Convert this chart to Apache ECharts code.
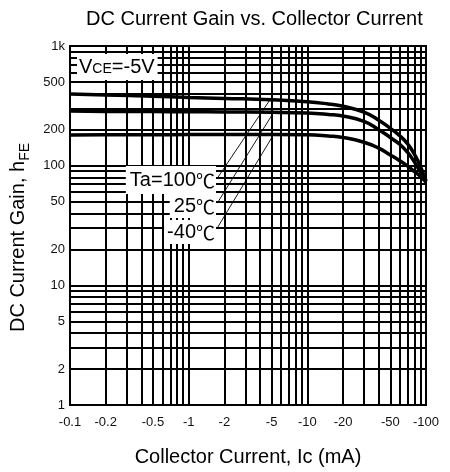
<!DOCTYPE html>
<html>
<head>
<meta charset="utf-8">
<script src="https://cdn.jsdelivr.net/npm/echarts@6/dist/echarts.min.js"></script>
<style>
  html, body { margin: 0; padding: 0; background: #fff; }
  #dc-gain-chart { width: 450px; height: 472px; }
</style>
</head>
<body>
<div id="dc-gain-chart"></div>
<script>
// collector current magnitude (mA), plotted as negative on the labels
const icValues = [0.1, 0.2, 0.5, 1, 2, 5, 10, 15, 20, 30, 40, 50, 60, 70, 80, 90, 100]
const hfe100 = [398, 390, 380, 372, 365, 355, 342, 328, 314, 280, 240, 205, 178, 152, 124, 98, 74]
const hfe25 = [286, 284, 283, 282, 281, 279, 275, 268, 260, 234, 200, 172, 151, 129, 107, 88, 75]
const hfeM40 = [180, 181, 181, 182, 182, 182, 181, 177, 172, 157, 140, 123, 110, 99, 89, 81, 73]

// tick labels and grid lines
const xLabelVals = [0.1, 0.2, 0.5, 1, 2, 5, 10, 20, 50, 100]
const xGridVals = [0.1, 0.2, 0.3, 0.4, 0.5, 0.6, 0.7, 0.8, 0.9, 1, 2, 3, 4, 5, 6, 7, 8, 9, 10, 20, 30, 40, 50, 60, 70, 80, 90, 100]
const yLabelVals = [1, 2, 5, 10, 20, 50, 100, 200, 500, 1000]
const yGridVals = [1, 2, 3, 4, 5, 6, 7, 8, 9, 10, 20, 30, 40, 50, 60, 70, 80, 90, 100, 200, 300, 400, 500, 600, 700, 800, 900, 1000]

// leader lines: [label end, curve point]
const leader100 = [[1.75, 79], [4.85, 356]]
const leader25 = [[1.75, 49], [5.2, 279]]
const leaderM40 = [[1.75, 30.4], [5.2, 182]]

const FONT = "'Liberation Sans', Arial, sans-serif"

function pairs(xs, ys) {
  return xs.map((x, i) => [x, ys[i]])
}

function cleanNum(v) {
  return parseFloat(Number(v).toPrecision(3))
}

function curve(name, data, leader) {
  return {
    name: name,
    type: 'line',
    smooth: true,
    showSymbol: false,
    silent: true,
    lineStyle: { color: '#000', width: 3.5 },
    data: pairs(icValues, data),
    markLine: {
      silent: true,
      symbol: ['none', 'none'],
      label: { show: false },
      lineStyle: { color: '#000', width: 0.9, type: 'solid' },
      data: [[{ coord: leader[0] }, { coord: leader[1] }]]
    }
  }
}

function tempLabel(y, txt, pad) {
  return {
    type: 'text',
    z: 100,
    x: 216,
    y: y,
    style: {
      text: '{a|' + txt + '}{c|℃}',
      align: 'right',
      verticalAlign: 'middle',
      backgroundColor: '#fff',
      padding: pad,
      rich: {
        a: { fontFamily: FONT, fontSize: 20, fill: '#000', verticalAlign: 'bottom' },
        c: { fontFamily: "'Noto Sans CJK JP'", fontSize: 19, fill: '#000', verticalAlign: 'bottom' }
      }
    }
  }
}

const chart = echarts.init(document.getElementById('dc-gain-chart'))

const option = {
  animation: false,
  title: {
    text: 'DC Current Gain vs. Collector Current',
    left: 81,
    top: 4,
    textStyle: { fontFamily: FONT, fontSize: 20, fontWeight: 'normal', color: '#000' }
  },
  grid: {
    left: 66,
    right: 24,
    top: 46,
    bottom: 66,
    show: true,
    borderColor: '#000',
    borderWidth: 2,
    backgroundColor: '#fff'
  },
  xAxis: {
    type: 'log',
    logBase: 10,
    min: 0.1,
    max: 100,
    name: 'Collector Current, Ic (mA)',
    nameLocation: 'middle',
    nameGap: 42,
    nameTextStyle: { fontFamily: FONT, fontSize: 20, color: '#000' },
    axisLine: { show: true, onZero: false, lineStyle: { color: '#000', width: 2 } },
    axisTick: { show: false, customValues: xGridVals },
    //轴上的字
    axisLabel: {
      customValues: xLabelVals,
      margin: 11,
      fontFamily: FONT,
      fontSize: 13,
      color: '#111',
      formatter: function (v) {
        return '-' + cleanNum(v)
      }
    },
    splitLine: { show: true, lineStyle: { color: '#000', width: 2 } }
  },
  yAxis: {
    type: 'log',
    logBase: 10,
    min: 1,
    max: 1000,
    name: '{a|DC Current Gain, h}{s|FE}',
    nameLocation: 'middle',
    nameGap: 38,
    nameRotate: 90,
    nameTextStyle: {
      padding: [0, 24, 0, 0],
      rich: {
        a: { fontFamily: FONT, fontSize: 20, color: '#000', verticalAlign: 'bottom', padding: [0, 0, 4, 0] },
        s: { fontFamily: FONT, fontSize: 14, color: '#000', verticalAlign: 'bottom' }
      }
    },
    axisLine: { show: true, onZero: false, lineStyle: { color: '#000', width: 2 } },
    axisTick: { show: false, customValues: yGridVals },
    axisLabel: {
      customValues: yLabelVals,
      margin: 5,
      fontFamily: FONT,
      fontSize: 13,
      color: '#111',
      formatter: function (v) {
        const n = cleanNum(v)
        return n === 1000 ? '1k' : String(n)
      }
    },
    splitLine: { show: true, lineStyle: { color: '#000', width: 2 } }
  },
  graphic: [
    {
      type: 'text',
      z: 100,
      x: 77,
      y: 67,
      style: {
        text: '{v|V}{s|CE}{v|=-5V}',
        align: 'left',
        verticalAlign: 'middle',
        backgroundColor: '#fff',
        padding: [3, 3, 3, 2],
        rich: {
          v: { fontFamily: FONT, fontSize: 20, fill: '#000', verticalAlign: 'bottom' },
          s: { fontFamily: FONT, fontSize: 14, fill: '#000', verticalAlign: 'bottom', padding: [0, 0, 1, 0] }
        }
      }
    },
    tempLabel(180, 'Ta=100', [4, 1, 4, 4]),
    tempLabel(206, '25', [2, 1, 2, 4]),
    tempLabel(232, '-40', [2, 1, 2, 3])
  ],
  series: [
    curve('Ta=100℃', hfe100, leader100),
    curve('25℃', hfe25, leader25),
    curve('-40℃', hfeM40, leaderM40)
  ]
}

chart.setOption(option)
</script>
</body>
</html>
